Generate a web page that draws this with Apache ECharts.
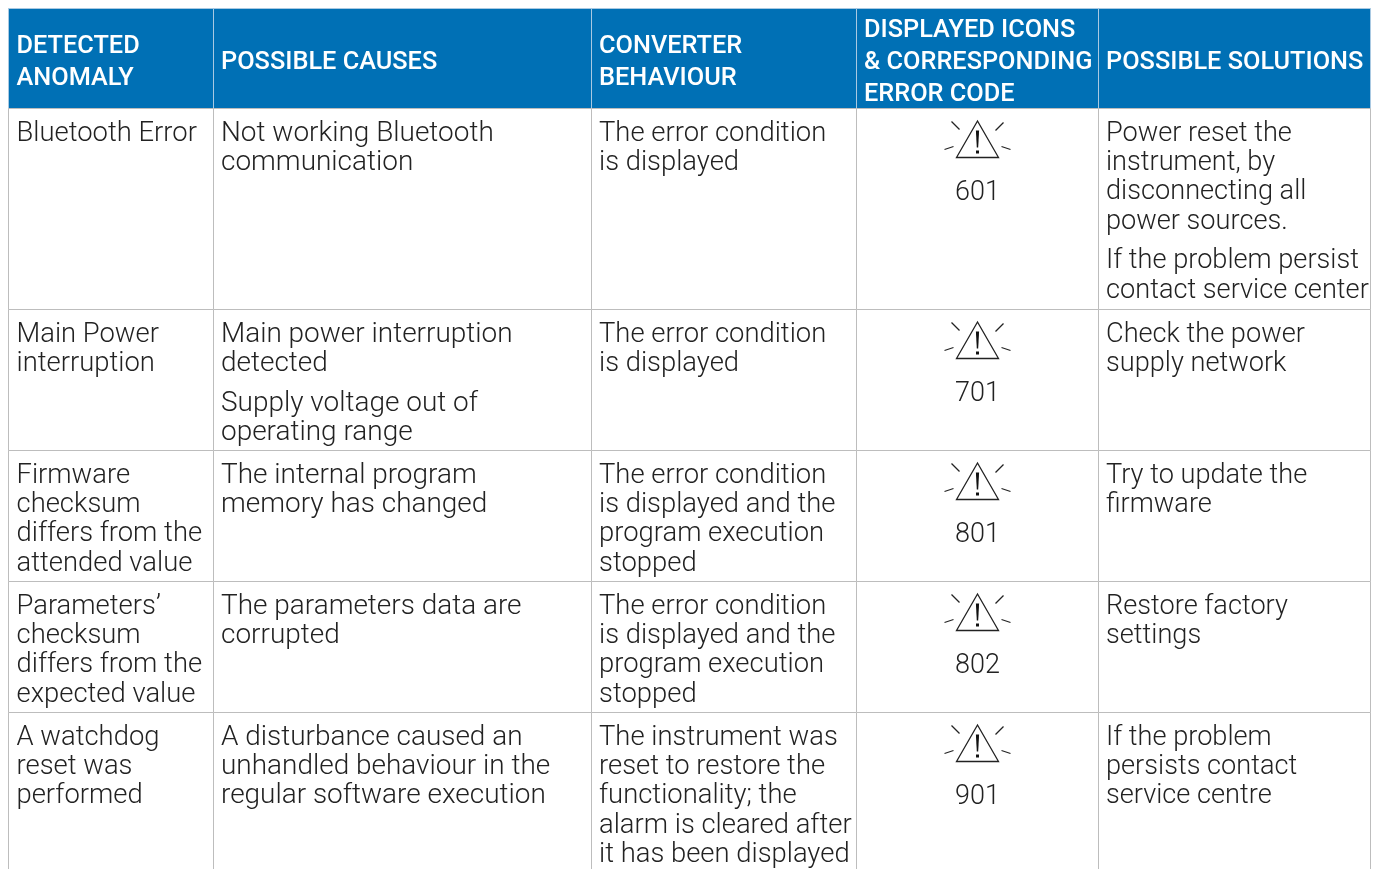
<!DOCTYPE html>
<html><head><meta charset="utf-8">
<style>html,body{margin:0;padding:0;background:#fff}#c{width:1383px;height:869px}</style>
<script src="https://cdn.jsdelivr.net/npm/echarts@6/dist/echarts.min.js"></script>
</head><body><div id="c"></div>
<script>
const headers = [
  ["DETECTED","ANOMALY"],
  ["POSSIBLE CAUSES"],
  ["CONVERTER","BEHAVIOUR"],
  ["DISPLAYED ICONS","& CORRESPONDING","ERROR CODE"],
  ["POSSIBLE SOLUTIONS"]
];
const anomalies = [
  [["Bluetooth Error"]],
  [["Main Power","interruption"]],
  [["Firmware","checksum","differs from the","attended value"]],
  [["Parameters’","checksum","differs from the","expected value"]],
  [["A watchdog","reset was","performed"]]
];
const causes = [
  [["Not working Bluetooth","communication"]],
  [["Main power interruption","detected"],["Supply voltage out of","operating range"]],
  [["The internal program","memory has changed"]],
  [["The parameters data are","corrupted"]],
  [["A disturbance caused an","unhandled behaviour in the","regular software execution"]]
];
const behaviours = [
  [["The error condition","is displayed"]],
  [["The error condition","is displayed"]],
  [["The error condition","is displayed and the","program execution","stopped"]],
  [["The error condition","is displayed and the","program execution","stopped"]],
  [["The instrument was","reset to restore the","functionality; the","alarm is cleared after","it has been displayed"]]
];
const errorCodes = ["601","701","801","802","901"];
const solutions = [
  [["Power reset the","instrument, by","disconnecting all","power sources."],["If the problem persist","contact service center"]],
  [["Check the power","supply network"]],
  [["Try to update the","firmware"]],
  [["Restore factory","settings"]],
  [["If the problem","persists contact","service centre"]]
];
const columnEdges = [8.5,213.5,591.5,856.5,1098.5,1370.5];
const rowEdges = [8.5,108.5,309.5,450.5,581.5,712.5,880];

const FONT = 'Roboto';
const bodySize = 27, headSize = 26.5, lineStep = 29.3, paraGap = 10.5;
const bodyColumns = [anomalies,causes,behaviours,null,solutions];
const bodyStretch = [1.015,1.035,1.015,1,1.006];
const headStretch = 0.955;
const inset = [8,7.5,7.5,7.5,7.5];

const cells = [];
for (let c=0;c<5;c++) for (let r=0;r<6;r++) cells.push([c,r]);

function tline(x,y,s,sx){return {type:'text',x,y,scaleX:sx,style:{x:0,y:0,text:s,fill:'#222',font:`300 ${bodySize}px ${FONT}`,textAlign:'left',textVerticalAlign:'middle'}};}
function seg(x1,y1,x2,y2,w){return {type:'line',shape:{x1,y1,x2,y2},style:{stroke:'#222',lineWidth:w||1.2}};}
function warning(cx,top){
  const t=top;
  return [
    {type:'polygon',shape:{points:[[cx,t+12.5],[cx-21,t+49],[cx+21,t+49]]},style:{fill:'none',stroke:'#222',lineWidth:1.3}},
    {type:'polygon',shape:{points:[[cx-1.6,t+22],[cx+1.6,t+22],[cx+0.7,t+39],[cx-0.7,t+39]]},style:{fill:'#111'}},
    {type:'rect',shape:{x:cx-1.5,y:t+42,width:3,height:3},style:{fill:'#111'}},
    seg(cx-26,t+13,cx-18,t+21), seg(cx+26,t+14,cx+18,t+22),
    seg(cx-33,t+41,cx-24,t+38), seg(cx+33,t+41,cx+24,t+38)
  ];
}
function renderItem(params,api){
  const c=api.value(0), r=api.value(1);
  const p0=api.coord([columnEdges[c],rowEdges[r]]), p1=api.coord([columnEdges[c+1],rowEdges[r+1]]);
  const x=p0[0],y=p0[1],w=p1[0]-p0[0],h=p1[1]-p0[1];
  const ch=[];
  if(r===0){
    ch.push({type:'rect',shape:{x,y,width:w,height:h},style:{fill:'#0070b5',stroke:'#a9c9e2',lineWidth:1}});
    const ls=headers[c], step=32, mid=y+h/2+4;
    ls.forEach((s,i)=>ch.push({type:'text',x:x+inset[c],y:mid+(i-(ls.length-1)/2)*step,scaleX:headStretch,style:{x:0,y:0,text:s,fill:'#fff',font:`500 ${headSize}px ${FONT}`,textAlign:'left',textVerticalAlign:'middle'}}));
  } else {
    ch.push({type:'rect',shape:{x,y,width:w,height:h},style:{fill:'#fff',stroke:'#bdbdbd',lineWidth:1}});
    if(c===3){
      const cx=x+w/2;
      warning(cx,y).forEach(e=>ch.push(e));
      ch.push({type:'text',style:{x:cx,y:y+85,text:errorCodes[r-1],fill:'#222',font:`300 ${bodySize}px ${FONT}`,textAlign:'center',textVerticalAlign:'middle'}});
    } else {
      let ty=y+25.5;
      bodyColumns[c][r-1].forEach(par=>{
        par.forEach(s=>{ch.push(tline(x+inset[c],ty,s,bodyStretch[c]));ty+=lineStep;});
        ty+=paraGap;
      });
    }
  }
  return {type:'group',children:ch};
}
const chart=echarts.init(document.getElementById('c'),null,{renderer:'canvas'});
chart.setOption({
  animation:false,
  backgroundColor:'#fff',
  grid:{left:0,right:0,top:0,bottom:0},
  xAxis:{type:'value',min:0,max:1383,show:false},
  yAxis:{type:'value',min:0,max:869,inverse:true,show:false},
  series:[{type:'custom',renderItem,data:cells,clip:true,silent:true,encode:{x:0,y:1}}]
});
</script></body></html>
